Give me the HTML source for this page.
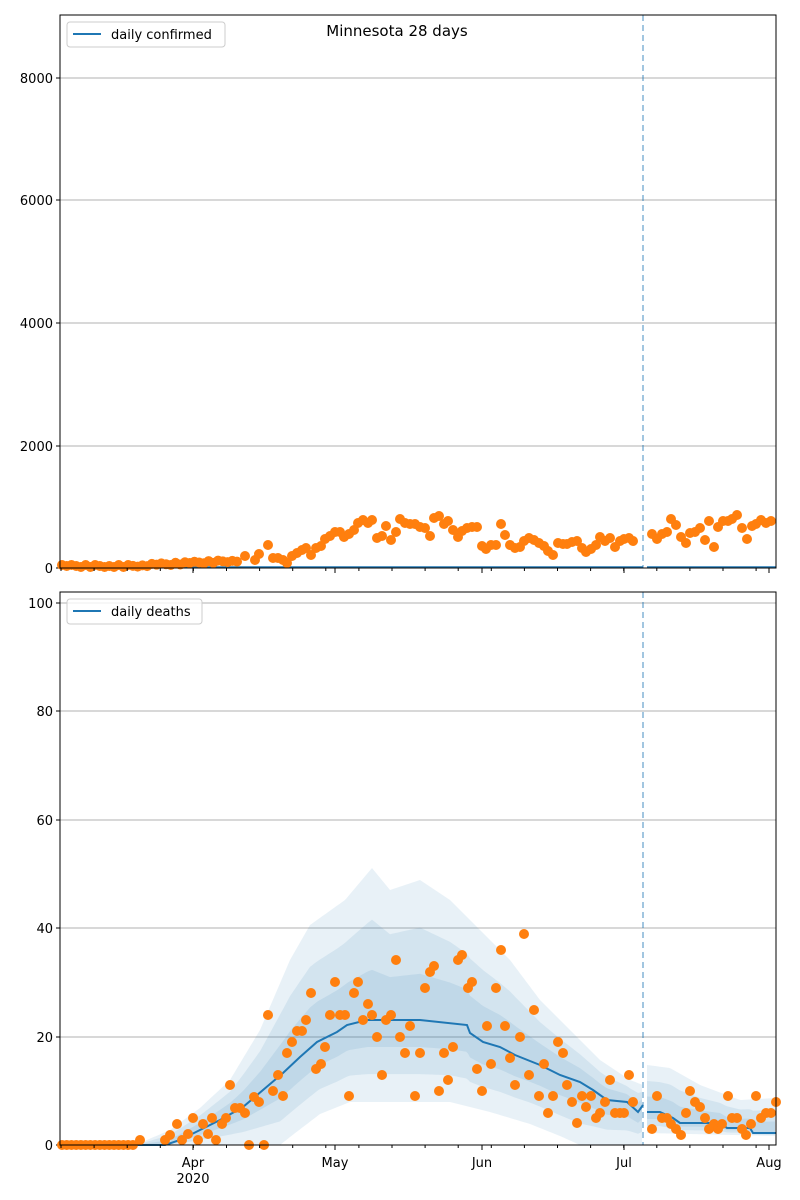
<!DOCTYPE html>
<html><head><meta charset="utf-8"><style>
body{margin:0;background:#fff;}
svg{display:block;font-family:"DejaVu Sans","Liberation Sans",sans-serif;}
</style></head><body>
<svg id="s" width="800" height="1200" xmlns="http://www.w3.org/2000/svg">
<rect width="800" height="1200" fill="#fff"/>
<g id="g"></g>
</svg>
<script>
const NS="http://www.w3.org/2000/svg";const G=document.getElementById('g');
function el(t,a,txt){const e=document.createElementNS(NS,t);for(const k in a)e.setAttribute(k,a[k]);if(txt!==undefined)e.textContent=txt;G.appendChild(e);return e;}
const L=60,R=776;
[[78,'8000'],[200,'6000'],[323,'4000'],[446,'2000'],[568,'0']].forEach(([y,t])=>{if(t!=='0')el('line',{x1:L,x2:R,y1:y,y2:y,stroke:'#b0b0b0','stroke-width':1});el('line',{x1:L-4,x2:L,y1:y,y2:y,stroke:'#000'});el('text',{x:L-7,y:y+5,'text-anchor':'end','font-size':13},t);});
[[603,'100'],[711,'80'],[820,'60'],[928,'40'],[1037,'20'],[1145,'0']].forEach(([y,t])=>{if(t!=='0')el('line',{x1:L,x2:R,y1:y,y2:y,stroke:'#b0b0b0','stroke-width':1});el('line',{x1:L-4,x2:L,y1:y,y2:y,stroke:'#000'});el('text',{x:L-7,y:y+5,'text-anchor':'end','font-size':13},t);});
function interp(pts,x){for(let i=0;i<pts.length-1;i++){if(x>=pts[i][0]&&x<=pts[i+1][0]){const t=(x-pts[i][0])/(pts[i+1][0]-pts[i][0]);return pts[i][1]+t*(pts[i+1][1]-pts[i][1]);}}return pts[pts.length-1][1];}
const med=[[60,1145],[165,1145],[180,1140],[200,1130],[220,1120],[243,1107],[263,1090],[283,1073],[300,1057],[317,1042],[337,1032],[347,1025],[367,1020],[420,1020],[467,1025],[470,1033],[483,1042],[500,1047],[515,1055],[540,1065],[560,1075],[580,1082],[593,1090],[607,1100],[627,1102],[638,1112],[643,1105]];
const up=[[60,1140],[70,1145],[140,1143],[170,1130],[200,1108],[230,1080],[260,1030],[290,960],[310,925],[345,900],[372,868],[390,890],[420,880],[450,900],[480,930],[510,960],[540,1000],[570,1030],[600,1060],[630,1080],[643,1085]];
const lo=[[60,1145],[280,1145],[290,1137],[320,1114],[350,1102],[450,1102],[490,1112],[530,1124],[560,1136],[580,1145],[643,1145]];
const medP=[[647,1112],[660,1112],[673,1118],[680,1123],[720,1123],[727,1128],[750,1128],[753,1133],[776,1133]];
const upP=[[647,1065],[670,1068],[700,1085],[740,1100],[776,1098]];
const loP=[[647,1133],[776,1136]];
function band(md,u,l,f,x0,x1){let top=[],bot=[];for(let x=x0;x<=x1;x+=2){const m=interp(md,x);top.push([x,m+(interp(u,x)-m)*f]);bot.push([x,m+(interp(l,x)-m)*f]);}
const d='M'+top.map(p=>p.join(',')).join('L')+'L'+bot.reverse().map(p=>p.join(',')).join('L')+'Z';el('path',{d,fill:'#1f77b4','fill-opacity':0.1,stroke:'none'});}
[1,0.66,0.33].forEach(f=>{band(med,up,lo,f,60,643);band(medP,upP,loP,f,647,776);});
el('polyline',{points:med.map(p=>p.join(',')).join(' '),fill:'none',stroke:'#1f77b4','stroke-width':2});
el('polyline',{points:medP.map(p=>p.join(',')).join(' '),fill:'none',stroke:'#1f77b4','stroke-width':2});
el('line',{x1:L,x2:643,y1:567,y2:567,stroke:'#1f77b4','stroke-width':1.5});
el('line',{x1:647,x2:R,y1:567,y2:567,stroke:'#1f77b4','stroke-width':1.5});
[[15,568],[592,1145]].forEach(([a,b])=>el('line',{x1:643,x2:643,y1:a,y2:b,stroke:'#1f77b4','stroke-opacity':0.55,'stroke-width':1.5,'stroke-dasharray':'6,4'}));
const dd=[];for(let x=62;x<=136;x+=4.73)dd.push([x,1145]);
dd.push(...[[140,1140],[165,1140],[170,1135],[177,1124],[182,1140],[188,1134],[193,1118],[198,1140],[203,1124],[208,1134],[212,1118],[216,1140],[222,1124],[226,1118],[230,1085],[235,1108],[240,1108],[245,1113],[249,1145],[254,1097],[259,1102],[264,1145],[268,1015],[273,1091],[278,1075],[283,1096],[287,1053],[292,1042],[297,1031],[302,1031],[306,1020],[311,993],[316,1069],[321,1064],[325,1047],[330,1015],[335,982],[340,1015],[345,1015],[349,1096],[354,993],[358,982],[363,1020],[368,1004],[372,1015],[377,1037],[382,1075],[386,1020],[391,1015],[396,960],[400,1037],[405,1053],[410,1026],[415,1096],[420,1053],[425,988],[430,972],[434,966],[439,1091],[444,1053],[448,1080],[453,1047],[458,960],[462,955],[468,988],[472,982],[477,1069],[482,1091],[487,1026],[491,1064],[496,988],[501,950],[505,1026],[510,1058],[515,1085],[520,1037],[524,934],[529,1075],[534,1010],[539,1096],[544,1064],[548,1113],[553,1096],[558,1042],[563,1053],[567,1085],[572,1102],[577,1123],[582,1096],[586,1107],[591,1096],[596,1118],[600,1113],[605,1102],[610,1080],[615,1113],[620,1113],[624,1113],[629,1075],[633,1102],[652,1129],[657,1096],[662,1118],[667,1118],[671,1124],[676,1129],[681,1135],[686,1113],[690,1091],[695,1102],[700,1107],[705,1118],[709,1129],[714,1124],[718,1129],[722,1124],[728,1096],[732,1118],[737,1118],[742,1129],[746,1135],[751,1124],[756,1096],[761,1118],[766,1113],[771,1113],[776,1102]]);
const cd=[];for(let x=62;x<=240;x+=4.73){cd.push([x,567-Math.max(0,(x-130))*0.05-(Math.round(x)%3)]);}
cd.push(...[[245,556],[255,560],[259,554],[268,545],[273,558],[278,558],[283,560],[287,563],[292,556],[297,553],[302,550],[306,548],[311,555],[316,548],[321,546],[325,539],[330,536],[335,532],[340,532],[344,537],[349,534],[354,530],[358,523],[363,520],[368,523],[372,520],[377,538],[382,536],[386,526],[391,540],[396,532],[400,519],[405,523],[410,524],[415,524],[420,527],[425,528],[430,536],[434,518],[439,516],[444,524],[448,521],[453,530],[458,537],[462,531],[467,528],[472,527],[477,527],[482,546],[486,549],[491,545],[496,545],[501,524],[505,535],[510,545],[515,548],[520,547],[524,541],[529,538],[534,540],[539,543],[544,546],[548,551],[553,555],[558,543],[563,544],[567,544],[572,542],[577,541],[582,548],[586,552],[591,549],[596,545],[600,537],[605,541],[610,538],[615,547],[620,541],[624,539],[629,538],[633,541],[652,534],[657,539],[662,534],[667,532],[671,519],[676,525],[681,537],[686,543],[690,533],[695,532],[700,528],[705,540],[709,521],[714,547],[718,527],[723,521],[728,521],[732,519],[737,515],[742,528],[747,539],[752,526],[756,524],[761,520],[766,523],[771,521]]);
[dd,cd].forEach(a=>a.forEach(([x,y])=>el('circle',{cx:x,cy:y,r:5,fill:'#ff7f0e'})));
el('rect',{x:L,y:15,width:R-L,height:553,fill:'none',stroke:'#000','stroke-width':1});
el('rect',{x:L,y:592,width:R-L,height:553,fill:'none',stroke:'#000','stroke-width':1});
const months=[[193,'Apr'],[335,'May'],[482,'Jun'],[624,'Jul'],[769,'Aug']];
[568,1145].forEach(y=>{months.forEach(([x])=>el('line',{x1:x,x2:x,y1:y,y2:y+5,stroke:'#000'}));for(let x=L+1;x<=R;x+=33.1)el('line',{x1:x,x2:x,y1:y,y2:y+3,stroke:'#000'});});
months.forEach(([x,t])=>el('text',{x,y:1167,'text-anchor':'middle','font-size':13},t));
el('text',{x:193,y:1183,'text-anchor':'middle','font-size':13},'2020');
el('text',{x:397,y:36,'text-anchor':'middle','font-size':15},'Minnesota 28 days');
el('rect',{x:67,y:22,width:158,height:25,rx:3,fill:'#fff','fill-opacity':0.8,stroke:'#ccc'});
el('line',{x1:73,x2:101,y1:34,y2:34,stroke:'#1f77b4','stroke-width':2});
el('text',{x:111,y:39,'font-size':13},'daily confirmed');
el('rect',{x:67,y:599,width:135,height:25,rx:3,fill:'#fff','fill-opacity':0.8,stroke:'#ccc'});
el('line',{x1:73,x2:101,y1:611,y2:611,stroke:'#1f77b4','stroke-width':2});
el('text',{x:111,y:616,'font-size':13},'daily deaths');
</script>
</body></html>
